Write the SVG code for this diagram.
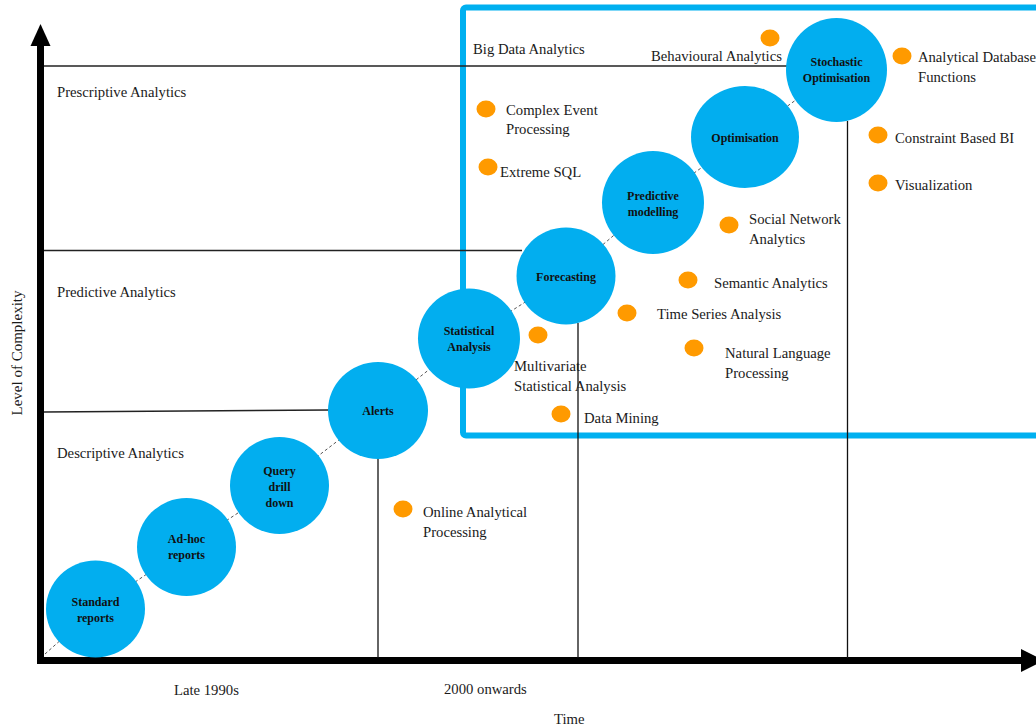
<svg xmlns="http://www.w3.org/2000/svg" width="1036" height="728" viewBox="0 0 1036 728">
<style>
.lbl{font-family:"Liberation Serif","Times New Roman",serif;font-size:14.7px;fill:#1a1a1a}
.nt{font-family:"Liberation Serif","Times New Roman",serif;font-size:12px;font-weight:bold;fill:#111;text-anchor:middle}
.node{fill:#02AEEF}
.dot{fill:#FF9A00}
.thin{stroke:#111;stroke-width:1.3;fill:none}
.lvl{stroke:#222;stroke-width:1.6;fill:none}
</style>
<rect width="1036" height="728" fill="#fff"/>
<g id="bigdata-frame">
<rect x="463" y="7.5" width="590" height="428" rx="3" fill="none" stroke="#00B0F0" stroke-width="6"/>
</g>
<g id="axes">
<line x1="40.5" y1="44" x2="40.5" y2="664" stroke="#000" stroke-width="7"/>
<polygon points="40.5,24 30.5,46 50.5,46" fill="#000"/>
<line x1="37" y1="660.5" x2="1024" y2="660.5" stroke="#000" stroke-width="7"/>
<polygon points="1044,660.5 1021,649 1021,672" fill="#000"/>
</g>
<g id="connectors">
<line class="lvl" x1="44" y1="66" x2="789" y2="66"/>
<line class="lvl" x1="44" y1="250.5" x2="522" y2="250.5"/>
<line class="lvl" x1="44" y1="412" x2="329" y2="410"/>
<polyline points="45,654 95.5,609 186.5,547 279.5,485.5 378,410 469,338 566,276 653,202 745,137 837,70" fill="none" stroke="#555" stroke-width="1" stroke-dasharray="3,2.5"/>
</g>
<g id="stage-standard-reports">
<ellipse class="node" cx="95.5" cy="609" rx="49.5" ry="48.5"/>
<text class="nt" x="95.5" y="606">Standard</text>
<text class="nt" x="95.5" y="622">reports</text>
</g>
<g id="stage-adhoc-reports">
<ellipse class="node" cx="186.5" cy="547" rx="49.5" ry="49"/>
<text class="nt" x="186.5" y="543">Ad-hoc</text>
<text class="nt" x="186.5" y="559">reports</text>
</g>
<g id="stage-query-drill-down">
<ellipse class="node" cx="279.5" cy="485.5" rx="49.5" ry="48.5"/>
<text class="nt" x="279.5" y="475">Query</text>
<text class="nt" x="279.5" y="491">drill</text>
<text class="nt" x="279.5" y="507">down</text>
</g>
<g id="stage-alerts">
<ellipse class="node" cx="378" cy="410.5" rx="50" ry="48.5"/>
<text class="nt" x="378" y="415">Alerts</text>
</g>
<g id="stage-statistical-analysis">
<ellipse class="node" cx="469" cy="338.5" rx="51" ry="50"/>
<text class="nt" x="469" y="335">Statistical</text>
<text class="nt" x="469" y="351">Analysis</text>
</g>
<g id="stage-forecasting">
<ellipse class="node" cx="566" cy="276" rx="49.5" ry="48.5"/>
<text class="nt" x="566" y="281">Forecasting</text>
</g>
<g id="stage-predictive-modelling">
<ellipse class="node" cx="653" cy="202.5" rx="51" ry="51.5"/>
<text class="nt" x="653" y="200">Predictive</text>
<text class="nt" x="653" y="216">modelling</text>
</g>
<g id="stage-optimisation">
<ellipse class="node" cx="745" cy="137" rx="54" ry="51"/>
<text class="nt" x="745" y="142">Optimisation</text>
</g>
<g id="stage-stochastic-optimisation">
<ellipse class="node" cx="836.5" cy="70" rx="50.5" ry="52"/>
<text class="nt" x="836.5" y="66">Stochastic</text>
<text class="nt" x="836.5" y="82">Optimisation</text>
</g>
<g id="era-lines">
<line class="thin" x1="378" y1="459" x2="378" y2="658"/>
<line class="thin" x1="578" y1="323" x2="578" y2="658"/>
<line class="thin" x1="847.5" y1="121" x2="847.5" y2="658"/>
</g>
<g id="level-labels">
<text class="lbl" x="57" y="97">Prescriptive Analytics</text>
<text class="lbl" x="57" y="297">Predictive Analytics</text>
<text class="lbl" x="57" y="458">Descriptive Analytics</text>
<text class="lbl" x="473" y="54">Big Data Analytics</text>
</g>
<g id="technique-behavioural">
<ellipse class="dot" cx="770" cy="38" rx="9.5" ry="8.5"/>
<text class="lbl" x="651" y="61">Behavioural Analytics</text>
</g>
<g id="technique-analytical-db">
<ellipse class="dot" cx="902" cy="56" rx="9.5" ry="8.5"/>
<text class="lbl" x="918" y="62" textLength="118" lengthAdjust="spacing">Analytical Database</text>
<text class="lbl" x="918" y="82">Functions</text>
</g>
<g id="technique-cep">
<ellipse class="dot" cx="486" cy="109" rx="9.5" ry="8.5"/>
<text class="lbl" x="506" y="115">Complex Event</text>
<text class="lbl" x="506" y="134">Processing</text>
</g>
<g id="technique-extreme-sql">
<ellipse class="dot" cx="488" cy="167" rx="9.5" ry="8.5"/>
<text class="lbl" x="500" y="177">Extreme SQL</text>
</g>
<g id="technique-constraint-bi">
<ellipse class="dot" cx="878" cy="135" rx="9.5" ry="8.5"/>
<text class="lbl" x="895" y="143">Constraint Based BI</text>
</g>
<g id="technique-visualization">
<ellipse class="dot" cx="878" cy="183" rx="9.5" ry="8.5"/>
<text class="lbl" x="895" y="190">Visualization</text>
</g>
<g id="technique-social-network">
<ellipse class="dot" cx="729" cy="225" rx="9.5" ry="8.5"/>
<text class="lbl" x="749" y="224">Social Network</text>
<text class="lbl" x="749" y="244">Analytics</text>
</g>
<g id="technique-semantic">
<ellipse class="dot" cx="688" cy="280" rx="9.5" ry="8.5"/>
<text class="lbl" x="714" y="288">Semantic Analytics</text>
</g>
<g id="technique-time-series">
<ellipse class="dot" cx="627" cy="313" rx="9.5" ry="8.5"/>
<text class="lbl" x="657" y="319">Time Series Analysis</text>
</g>
<g id="technique-multivariate">
<ellipse class="dot" cx="538" cy="335" rx="9.5" ry="8.5"/>
<text class="lbl" x="514" y="371">Multivariate</text>
<text class="lbl" x="514" y="391">Statistical Analysis</text>
</g>
<g id="technique-nlp">
<ellipse class="dot" cx="694" cy="348" rx="9.5" ry="8.5"/>
<text class="lbl" x="725" y="358">Natural Language</text>
<text class="lbl" x="725" y="378">Processing</text>
</g>
<g id="technique-data-mining">
<ellipse class="dot" cx="561" cy="414" rx="9.5" ry="8.5"/>
<text class="lbl" x="584" y="423">Data Mining</text>
</g>
<g id="technique-olap">
<ellipse class="dot" cx="403" cy="509" rx="9.5" ry="8.5"/>
<text class="lbl" x="423" y="517">Online Analytical</text>
<text class="lbl" x="423" y="537">Processing</text>
</g>
<g id="axis-labels">
<text class="lbl" x="174" y="695">Late 1990s</text>
<text class="lbl" x="444" y="694">2000 onwards</text>
<text class="lbl" x="554" y="724">Time</text>
<text class="lbl" style="font-size:15px" text-anchor="middle" transform="translate(22,353) rotate(-90)">Level of Complexity</text>
</g>
</svg>
